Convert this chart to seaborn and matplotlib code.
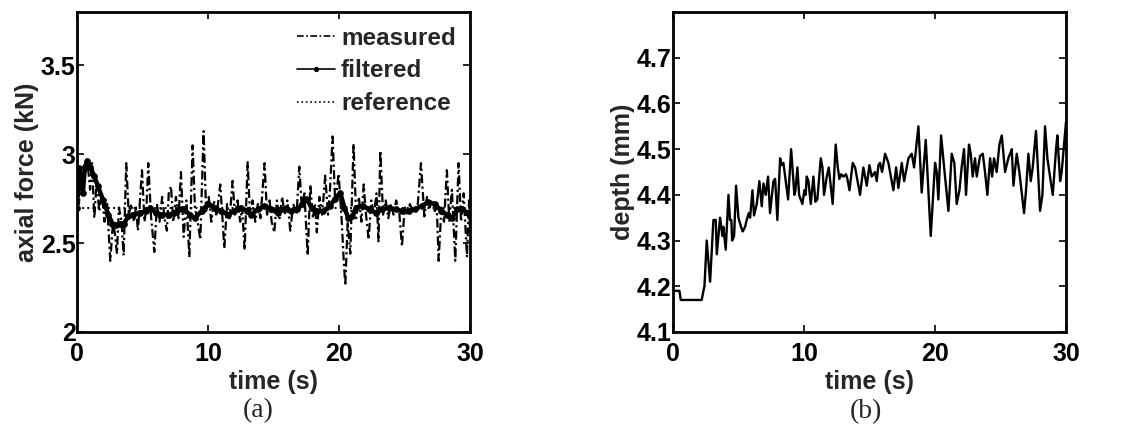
import numpy as np
import pandas as pd
import matplotlib
matplotlib.use("Agg")
import matplotlib.pyplot as plt
import seaborn as sns

# ---------------- data: panel (a) axial force ----------------
meas_t = [0.0, 0.15, 0.3, 0.45, 0.8, 1.0, 1.15, 1.32, 1.5, 1.7, 1.9, 2.1, 2.3, 2.54, 2.75, 2.9,
          3.05, 3.2, 3.4, 3.56, 3.76, 3.95, 4.15, 4.35, 4.5, 4.65, 4.96, 5.15, 5.3, 5.44, 5.65,
          5.9, 6.1, 6.3, 6.5, 6.7, 6.86, 7.0, 7.17, 7.35, 7.55, 7.75, 7.93, 8.14, 8.35, 8.57,
          8.82, 9.0, 9.2, 9.41, 9.66, 9.85, 10.05, 10.25, 10.45, 10.65, 10.93, 11.1, 11.24,
          11.45, 11.65, 11.87, 12.05, 12.25, 12.45, 12.6, 12.79, 13.02, 13.2, 13.4, 13.6, 13.8,
          14.0, 14.31, 14.5, 14.7, 14.85, 15.05, 15.25, 15.45, 15.65, 15.85, 16.05, 16.27, 16.5,
          16.75, 16.96, 17.15, 17.35, 17.6, 17.8, 18.0, 18.15, 18.3, 18.5, 18.7, 18.94, 19.15,
          19.3, 19.5, 19.7, 19.96, 20.2, 20.35, 20.47, 20.65, 20.85, 21.1, 21.3, 21.5, 21.7,
          21.87, 22.05, 22.25, 22.45, 22.65, 22.85, 23.0, 23.14, 23.35, 23.55, 23.75, 23.95,
          24.15, 24.35, 24.6, 24.79, 25.0, 25.2, 25.4, 25.6, 25.8, 26.0, 26.24, 26.5, 26.7,
          26.9, 27.1, 27.3, 27.45, 27.59, 27.8, 28.0, 28.22, 28.4, 28.6, 28.86, 29.11, 29.3,
          29.5, 29.75, 29.9, 30.0]
meas_v = [3.04, 2.72, 2.90, 2.80, 2.96, 2.80, 2.95, 2.64, 2.85, 2.68, 2.78, 2.62, 2.72, 2.40, 2.62, 2.55,
          2.44, 2.70, 2.62, 2.43, 2.95, 2.66, 2.72, 2.62, 2.70, 2.57, 2.91, 2.62, 2.70, 2.95, 2.65,
          2.45, 2.72, 2.62, 2.76, 2.63, 2.57, 2.78, 2.82, 2.62, 2.76, 2.64, 2.90, 2.535, 2.74, 2.42,
          3.05, 2.70, 2.62, 2.52, 3.13, 2.68, 2.76, 2.62, 2.74, 2.65, 2.83, 2.64, 2.47,
          2.72, 2.64, 2.85, 2.66, 2.74, 2.62, 2.70, 2.46, 2.955, 2.66, 2.74, 2.62, 2.72,
          2.64, 2.95, 2.66, 2.74, 2.62, 2.56, 2.74, 2.64, 2.76, 2.66, 2.74, 2.57, 2.72,
          2.66, 2.93, 2.70, 2.78, 2.43, 2.83, 2.64, 2.72, 2.56, 2.76, 2.66, 2.88, 2.66,
          2.80, 3.10, 2.72, 2.89, 2.62, 2.40, 2.26, 2.62, 2.44, 3.06, 2.64, 2.76, 2.62,
          2.83, 2.66, 2.52, 2.74, 2.66, 2.78, 2.51, 3.02, 2.66, 2.74, 2.64, 2.72,
          2.66, 2.74, 2.66, 2.48, 2.70, 2.66, 2.72, 2.68, 2.70, 2.72, 2.95, 2.65, 2.76,
          2.70, 2.74, 2.68, 2.70, 2.40, 2.70, 2.62, 2.91, 2.62, 2.80, 2.40, 2.95, 2.62,
          2.78, 2.42, 2.74, 2.55]

filt_t = [0.0, 0.15, 0.3, 0.45, 0.6, 0.8, 1.0, 1.3, 1.6, 2.0, 2.4, 2.7, 3.0, 3.3, 3.6, 3.9, 4.3,
          4.8, 5.3, 5.6, 6.0, 6.5, 7.0, 7.4, 7.8, 8.2, 8.6, 9.0, 9.5, 10.0, 10.5, 11.0, 11.5,
          12.0, 12.5, 13.0, 13.3, 13.8, 14.3, 14.8, 15.3, 15.8, 16.3, 16.8, 17.2, 17.5, 17.9,
          18.3, 18.8, 19.3, 19.7, 20.1, 20.4, 20.7, 21.0, 21.3, 21.8, 22.3, 22.8, 23.3, 23.8,
          24.3, 24.8, 25.3, 25.8, 26.3, 26.8, 27.3, 27.8, 28.2, 28.6, 29.0, 29.4, 29.8, 30.0]
filt_v = [2.70, 2.92, 2.88, 2.78, 2.93, 2.96, 2.93, 2.88, 2.82, 2.74, 2.66, 2.61, 2.60, 2.61, 2.61, 2.65, 2.66,
          2.67, 2.68, 2.70, 2.67, 2.66, 2.66, 2.67, 2.69, 2.69, 2.66, 2.64, 2.68, 2.72, 2.70, 2.68, 2.66,
          2.68, 2.70, 2.68, 2.66, 2.69, 2.71, 2.69, 2.67, 2.69, 2.68, 2.69, 2.72, 2.75, 2.70,
          2.68, 2.68, 2.71, 2.75, 2.78, 2.70, 2.64, 2.65, 2.70, 2.71, 2.69, 2.67, 2.69, 2.70,
          2.69, 2.68, 2.68, 2.69, 2.71, 2.73, 2.72, 2.68, 2.66, 2.64, 2.69, 2.69, 2.67, 2.66]

ref_t = [0.0, 30.0]
ref_v = [2.7, 2.7]

# ---------------- data: panel (b) depth ----------------
depth_t = [0.0, 0.51, 0.61, 2.21, 2.34, 2.42, 2.59, 2.85, 3.10, 3.28, 3.36, 3.61, 3.79, 3.86, 4.04,
           4.25, 4.37, 4.47, 4.53, 4.68, 4.83, 5.01, 5.21, 5.34, 5.52, 5.64, 5.80, 5.90, 6.08,
           6.20, 6.41, 6.61, 6.79, 6.92, 7.09, 7.27, 7.42, 7.68, 7.81, 7.98, 8.19, 8.31, 8.44,
           8.62, 8.80, 9.03, 9.28, 9.36, 9.51, 9.64, 9.76, 9.89, 10.04, 10.14, 10.22, 10.35,
           10.53, 10.73, 10.88, 11.03, 11.29, 11.42, 11.54, 11.75, 11.90, 12.20, 12.43, 12.59,
           12.71, 12.84, 13.02, 13.22, 13.32, 13.48, 13.73, 13.91, 14.29, 14.54, 14.80, 15.00,
           15.18, 15.43, 15.56, 15.69, 15.81, 15.97, 16.20, 16.45, 16.83, 17.04, 17.21, 17.47,
           17.65, 17.98, 18.23, 18.41, 18.74, 18.99, 19.30, 19.68, 20.01, 20.14, 20.26, 20.47,
           20.77, 21.03, 21.28, 21.48, 21.66, 21.87, 22.04, 22.22, 22.37, 22.60, 22.73, 22.88,
           23.06, 23.19, 23.44, 23.65, 23.82, 24.00, 24.21, 24.36, 24.51, 24.71, 24.92, 25.10,
           25.35, 25.60, 25.86, 25.99, 26.24, 26.44, 26.80, 26.95, 27.13, 27.31, 27.46, 27.71,
           28.02, 28.20, 28.40, 28.58, 28.78, 28.99, 29.24, 29.34, 29.55, 29.67, 30.0]
depth_v = [4.19, 4.19, 4.17, 4.17, 4.19, 4.20, 4.30, 4.21, 4.345, 4.345, 4.27, 4.35, 4.31, 4.33, 4.28,
           4.40, 4.345, 4.345, 4.30, 4.31, 4.42, 4.35, 4.33, 4.32, 4.33, 4.345, 4.36, 4.35, 4.41,
           4.355, 4.38, 4.43, 4.375, 4.425, 4.40, 4.44, 4.36, 4.43, 4.435, 4.345, 4.48, 4.465, 4.47,
           4.43, 4.39, 4.50, 4.40, 4.41, 4.46, 4.40, 4.39, 4.38, 4.41, 4.40, 4.44, 4.43,
           4.38, 4.44, 4.385, 4.39, 4.48, 4.46, 4.40, 4.44, 4.46, 4.38, 4.51, 4.46,
           4.435, 4.445, 4.44, 4.445, 4.435, 4.41, 4.47, 4.46, 4.40, 4.46, 4.42, 4.465,
           4.44, 4.45, 4.43, 4.465, 4.47, 4.45, 4.49, 4.47, 4.41, 4.46, 4.415, 4.47,
           4.43, 4.48, 4.49, 4.46, 4.55, 4.405, 4.52, 4.31, 4.47, 4.45, 4.39, 4.53,
           4.44, 4.365, 4.49, 4.47, 4.38, 4.41, 4.46, 4.50, 4.40, 4.51, 4.49, 4.44,
           4.48, 4.44, 4.485, 4.49, 4.45, 4.40, 4.48, 4.44, 4.48, 4.45, 4.51, 4.53,
           4.45, 4.48, 4.50, 4.42, 4.49, 4.45, 4.36, 4.41, 4.49, 4.43, 4.46, 4.54,
           4.365, 4.40, 4.55, 4.48, 4.44, 4.40, 4.50, 4.53, 4.43, 4.45, 4.56]

x_ticks = [0, 10, 20, 30]
force_ticks = [2, 2.5, 3, 3.5]
depth_ticks = [4.1, 4.2, 4.3, 4.4, 4.5, 4.6, 4.7]

# ---------------- style ----------------
sns.set_theme(style="ticks")
plt.rcParams['font.family'] = ['Liberation Sans', 'DejaVu Sans']
plt.rcParams['font.weight'] = 'bold'
plt.rcParams['axes.labelweight'] = 'bold'

FS = 18

fig = plt.figure(figsize=(11.22, 4.30), dpi=100)
axA = fig.add_axes([0.0686, 0.228, 0.3505, 0.744])
axB = fig.add_axes([0.5996, 0.228, 0.3505, 0.744])

df_m = pd.DataFrame({"t": meas_t, "v": meas_v})
df_f = pd.DataFrame({"t": filt_t, "v": filt_v})
df_r = pd.DataFrame({"t": ref_t, "v": ref_v})
df_d = pd.DataFrame({"t": depth_t, "v": depth_v})

sns.lineplot(data=df_r, x="t", y="v", ax=axA, color="black", lw=1.4, ls=":", label="reference", zorder=1)
sns.lineplot(data=df_m, x="t", y="v", ax=axA, color="black", lw=1.6,
             dashes=False, label="measured", zorder=2)
axA.lines[-1].set_linestyle((0, (4, 1.5, 1, 1.5)))
sns.lineplot(data=df_f, x="t", y="v", ax=axA, color="black", lw=3.2, marker="o", ms=4,
             mec="black", label="filtered", zorder=3)

sns.lineplot(data=df_d, x="t", y="v", ax=axB, color="black", lw=1.7)

for ax, yt, ylim, ylab in [(axA, force_ticks, (2, 3.8), "axial force (kN)"),
                           (axB, depth_ticks, (4.1, 4.8), "depth (mm)")]:
    ax.set_xlim(0, 30)
    ax.set_ylim(*ylim)
    ax.set_xticks(x_ticks)
    ax.set_yticks(yt)
    ax.set_yticklabels([f"{v:g}" for v in yt])
    ax.set_xlabel("time (s)", fontsize=FS, fontweight="bold", labelpad=3)
    ax.set_ylabel(ylab, fontsize=FS, fontweight="bold", labelpad=1)
    ax.tick_params(direction="in", length=5, width=1.2, labelsize=FS, top=True, right=True,
                   colors="black")
    ax.tick_params(axis="y", pad=1)
    ax.tick_params(axis="x", pad=7)
    for lab in ax.get_xticklabels() + ax.get_yticklabels():
        lab.set_fontweight("bold")
    for s in ax.spines.values():
        s.set_visible(True)
        s.set_linewidth(2)
        s.set_color("black")
    ax.grid(False)

# legend order as in reference
h, l = axA.get_legend_handles_labels()
order = [l.index("measured"), l.index("filtered"), l.index("reference")]
leg = axA.legend([h[i] for i in order], [l[i] for i in order], loc="upper right", frameon=False,
                 handlelength=1.55, handletextpad=0.25, labelspacing=0.4, borderaxespad=0.3,
                 borderpad=0.3, prop={"size": 17.5, "weight": "bold"})
for lh in leg.get_lines():
    lh.set_linewidth(1.2)
    lh.set_markersize(3)

fig.text(0.23, 0.045, "(a)", ha="center", va="center", fontsize=20, family="Liberation Serif",
         fontweight="normal")
fig.text(0.772, 0.042, "(b)", ha="center", va="center", fontsize=20, family="Liberation Serif",
         fontweight="normal")

fig.savefig("out.png", dpi=100)
